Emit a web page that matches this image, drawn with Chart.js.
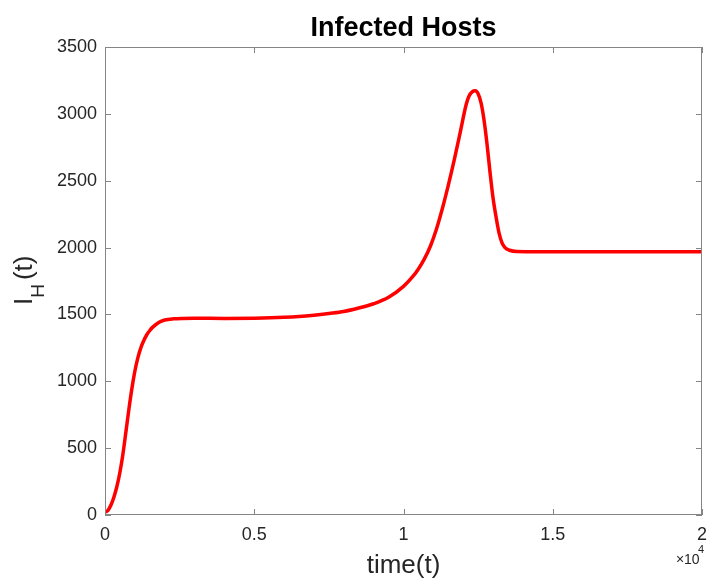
<!DOCTYPE html>
<html>
<head>
<meta charset="utf-8">
<script src="https://cdn.jsdelivr.net/npm/chart.js@4.4.1/dist/chart.umd.min.js"></script>
<style>
    body { margin: 0; background: #fff; }
    #wrap { width: 707px; height: 581px; }
</style>
</head>
<body>
<div id="wrap"><canvas id="hostChart" width="707" height="581"></canvas></div>
<script>
// time points and infected hosts
const timeValues = [
    0, 100, 200, 300, 400, 500, 600, 700, 800, 900, 1000, 1100, 1200, 1300, 1400, 1500, 1600, 1800,
    2000, 2300, 2600, 3000, 4000, 5000, 6000, 6500, 7000, 7500, 8000, 8500, 9000, 9500, 10000,
    10300, 10500, 10700, 10900, 11100, 11300, 11500, 11700, 11900, 12100, 12200, 12300, 12400,
    12500, 12600, 12700, 12800, 12900, 13000, 13100, 13200, 13300, 13400, 13550, 13800,
    14500, 20000
];
const infectedValues = [
    20, 35, 75, 135, 215, 320, 455, 620, 790, 945, 1075, 1175, 1250, 1305, 1348, 1380, 1405, 1440,
    1458, 1467, 1470, 1471, 1470, 1472, 1478, 1484, 1494, 1507, 1522, 1548, 1580, 1628, 1710,
    1780, 1840, 1915, 2010, 2135, 2290, 2465, 2655, 2862, 3070, 3135, 3165, 3172,
    3150, 3080, 2950, 2770, 2560, 2370, 2230, 2110, 2035, 2000, 1980, 1970,
    1968, 1968
];
const xTicks = [0, 5000, 10000, 15000, 20000];
const yTicks = [0, 500, 1000, 1500, 2000, 2500, 3000, 3500];

const FONT = '"Liberation Sans", Arial, Helvetica, sans-serif';
const TEXT = '#262626';
const BOX = '#858585';

const points = timeValues.map((t, i) => ({ x: t, y: infectedValues[i] }));

const frameAndLabels = {
    id: 'frameAndLabels',
    afterDraw(chart) {
        const { ctx, chartArea: a, scales: { x, y } } = chart;
        const len = 6;

        ctx.save();
        ctx.strokeStyle = BOX;
        ctx.lineWidth = 1;
        ctx.strokeRect(a.left + 0.5, a.top + 0.5, a.right - a.left - 1, a.bottom - a.top - 1);

        ctx.beginPath();
        xTicks.forEach(v => {
            const px = Math.round(x.getPixelForValue(v)) + 0.5;
            ctx.moveTo(px, a.bottom); ctx.lineTo(px, a.bottom - len);
            ctx.moveTo(px, a.top); ctx.lineTo(px, a.top + len);
        });
        yTicks.forEach(v => {
            const py = Math.round(y.getPixelForValue(v)) + 0.5;
            ctx.moveTo(a.left, py); ctx.lineTo(a.left + len, py);
            ctx.moveTo(a.right, py); ctx.lineTo(a.right - len, py);
        });
        ctx.stroke();

        const cx = (a.left + a.right) / 2;
        ctx.fillStyle = '#000';
        ctx.textAlign = 'center';
        ctx.textBaseline = 'alphabetic';
        ctx.font = `bold 27px ${FONT}`;
        ctx.fillText('Infected Hosts', cx, 36);

        ctx.fillStyle = TEXT;
        ctx.font = `26px ${FONT}`;
        ctx.fillText('time(t)', cx, 573);

        // x10^4 exponent
        ctx.textAlign = 'left';
        ctx.font = `14px ${FONT}`;
        ctx.fillText('\u00d7', 676, 564);
        ctx.font = `14px ${FONT}`;
        ctx.fillText('10', 684, 564);
        ctx.font = `11px ${FONT}`;
        ctx.fillText('4', 698, 553);

        // rotated I_H(t)
        ctx.translate(32, 305);
        ctx.rotate(-Math.PI / 2);
        ctx.font = `26px ${FONT}`;
        ctx.fillText('I', 0, 0);
        let off = ctx.measureText('I').width;
        ctx.font = `19px ${FONT}`;
        ctx.fillText('H', off, 12);
        off += ctx.measureText('H').width + 4;
        ctx.font = `26px ${FONT}`;
        ctx.fillText('(t)', off, 0);
        ctx.restore();
    }
};

new Chart(document.getElementById('hostChart'), {
    type: 'line',
    data: {
        datasets: [{
            data: points,
            borderColor: '#ff0000',
            borderWidth: 3.5,
            pointRadius: 0,
            fill: false,
            cubicInterpolationMode: 'monotone'
        }]
    },
    options: {
        responsive: false,
        animation: false,
        layout: { padding: { top: 47, right: 5, left: 0, bottom: 0 } },
        plugins: {
            legend: { display: false },
            tooltip: { enabled: false }
        },
        scales: {
            x: {
                type: 'linear',
                min: 0,
                max: 20000,
                grid: { display: false, drawTicks: false },
                border: { display: false },
                afterFit: (scale) => {
                    scale.height = 66;
                    scale.paddingLeft = 0;
                    scale.paddingRight = 0;
                },
                afterBuildTicks: (scale) => { scale.ticks = xTicks.map(v => ({ value: v })); },
                ticks: {
                    padding: 9,
                    color: TEXT,
                    font: { family: FONT, size: 18 },
                    maxRotation: 0,
                    callback: (value) => String(value / 10000)
                }
            },
            y: {
                min: 0,
                max: 3500,
                grid: { display: false, drawTicks: false },
                border: { display: false },
                afterFit: (scale) => {
                    scale.width = 105;
                    scale.paddingTop = 0;
                    scale.paddingBottom = 0;
                },
                afterBuildTicks: (scale) => { scale.ticks = yTicks.map(v => ({ value: v })); },
                ticks: {
                    padding: 8,
                    color: TEXT,
                    font: { family: FONT, size: 18 },
                    callback: (value) => String(value)
                }
            }
        }
    },
    plugins: [frameAndLabels]
});
</script>
</body>
</html>
